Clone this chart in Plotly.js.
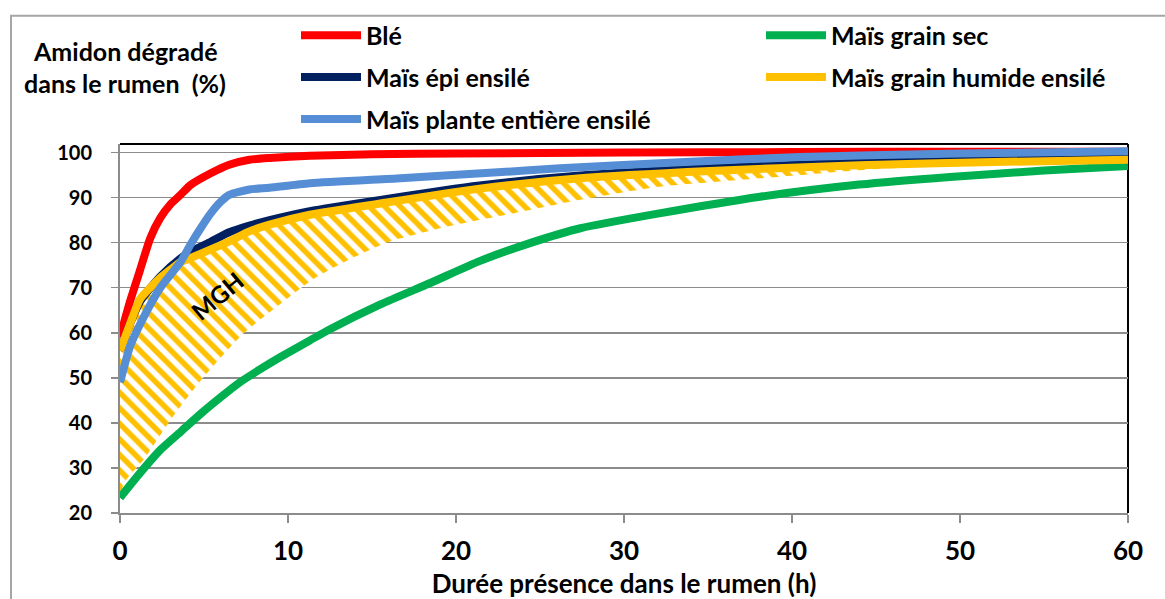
<!DOCTYPE html>
<html><head><meta charset="utf-8">
<script src="https://cdn.plot.ly/plotly-3.0.1.min.js"></script>
<style>html,body{margin:0;padding:0;background:#fff}</style>
</head><body><div id="chart" style="width:1165px;height:599px"></div>
<script>
// ---- data ----
const bleX = [0, 0.6, 1.2, 1.8, 2.4, 3, 3.6, 4.2, 5.4, 6.5, 7.7, 8.9, 11.3, 15, 20, 30, 40, 50, 60];
const bleY = [59, 67, 74, 81, 85.5, 88.5, 90.6, 92.8, 95.4, 97.3, 98.4, 98.8, 99.3, 99.6, 99.8, 100, 100.1, 100.2, 100.2];

const grainSecX = [0, 1.2, 2.4, 3.6, 4.8, 6, 7.1, 8.3, 9.5, 11.3, 12.5, 15.5, 18.5, 21.4, 24.4, 27.4, 32.1, 38.1, 44, 49.4, 55, 60];
const grainSecY = [23.4, 28.9, 34, 38, 42, 45.7, 48.9, 51.8, 54.5, 58.3, 60.8, 66.3, 71.1, 75.9, 79.9, 83.2, 86.5, 90.2, 92.9, 94.6, 96, 97];

const epiX = [0, 0.6, 1.2, 2.4, 3.6, 4.2, 5.4, 6.5, 7.7, 8.9, 11.3, 15.5, 21.4, 27.4, 35, 44, 52, 60];
const epiY = [56, 62, 67, 72.5, 76.5, 78, 80.2, 82.3, 83.8, 85.0, 87.0, 89.5, 92.7, 94.9, 96.5, 97.8, 98.5, 99];

const humideX = [0, 0.6, 1.2, 1.8, 2.4, 3, 3.6, 4.2, 5.4, 6.5, 7.7, 8.9, 11.3, 15.5, 21.4, 27.4, 35.1, 44, 52, 60];
const humideY = [56, 62, 67.5, 70, 72.2, 74, 75.7, 76.6, 78.5, 80.3, 82.5, 84, 86.2, 88.7, 92, 94.3, 95.9, 97.2, 97.9, 98.4];

const planteX = [0, 0.6, 1.4, 2.4, 3.6, 4.2, 4.8, 5.4, 6, 6.5, 7.7, 8.9, 11.3, 16.7, 22, 26.2, 33, 40.5, 50, 60];
const planteY = [49, 57, 63.4, 70, 75.7, 79.6, 83.2, 86.5, 89.1, 90.6, 91.8, 92.2, 93.2, 94.3, 95.5, 96.5, 97.8, 99, 99.8, 100.3];

// lower edge of the hatched MGH zone (upper edge = Maïs grain humide ensilé)
const mghBasX = [0, 0.3, 1.4, 3, 4.8, 7.3, 9.5, 11.5, 13.5, 16.1, 19.5, 23.4, 27.4, 32.1, 38.1, 44, 49, 53];
const mghBasY = [24, 27, 31.8, 40.6, 49.4, 59.7, 66.3, 71.9, 76, 80.3, 83.6, 86.5, 89.5, 92.4, 94.3, 96.1, 97.2, 98];

const seriesNames = ['Blé', 'Maïs grain sec', 'Maïs épi ensilé', 'Maïs grain humide ensilé', 'Maïs plante entière ensilé'];
const xTicks = [0, 10, 20, 30, 40, 50, 60];
const yTicks = [20, 30, 40, 50, 60, 70, 80, 90, 100];
const yTitle1 = 'Amidon dégradé';
const yTitle2 = 'dans le rumen&nbsp; (%)';
const xTitle = 'Durée présence dans le rumen (h)';
const zoneLabel = 'MGH';

// ---- styling ----
const FONT = 'Lato, "Open Sans", sans-serif';
const colors = ['#FF0000', '#00B050', '#002060', '#FFC000', '#558ED5'];
const LW = 8;
const L = 120, R = 37, T = 142, B = 86, W = 1165, H = 599;
const pw = W - L - R, ph = H - T - B;
const px2x = p => (p - L) / pw;
const py2y = p => (H - B - p) / ph;

const lineTrace = (x, y, i) => ({
  x, y, type: 'scatter', mode: 'lines', name: seriesNames[i],
  line: {color: colors[i], width: LW, shape: 'spline', smoothing: 0.6},
  legend: i === 0 ? 'legend' : 'legend' + (i + 1),
  hoverinfo: 'skip'
});

const traces = [
  {x: mghBasX, y: mghBasY, type: 'scatter', mode: 'lines', line: {width: 0, shape: 'spline', smoothing: 0.6},
   showlegend: false, hoverinfo: 'skip'},
  {x: humideX, y: humideY, type: 'scatter', mode: 'lines', line: {width: 0, shape: 'spline', smoothing: 0.6},
   fill: 'tonexty', fillcolor: 'white',
   fillpattern: {shape: '\\', fgcolor: '#FFC000', bgcolor: 'white', size: 11, solidity: 0.5, fgopacity: 1},
   showlegend: false, hoverinfo: 'skip'},
  lineTrace(bleX, bleY, 0),
  lineTrace(grainSecX, grainSecY, 1),
  lineTrace(epiX, epiY, 2),
  lineTrace(humideX, humideY, 3),
  lineTrace(planteX, planteY, 4)
];

const legendPos = [[296, 33], [761, 33], [296, 75], [761, 75], [296, 117]];
const layout = {
  width: W, height: H,
  margin: {l: L, r: R, t: T, b: B},
  paper_bgcolor: 'white', plot_bgcolor: 'white',
  font: {family: FONT, color: '#000'},
  showlegend: true,
  xaxis: {
    range: [0, 60], tickvals: xTicks, ticks: 'outside', ticklen: 8, tickwidth: 1.5, tickcolor: '#8C8C8C',
    showline: true, linecolor: '#8C8C8C', linewidth: 2, showgrid: false, zeroline: false,
    tickfont: {family: FONT, size: 26, weight: 'bold', color: '#000'},
    ticklabelstandoff: 6,
    title: {text: xTitle, font: {family: FONT, size: 26, weight: 'bold', color: '#000'}, standoff: 13},
    layer: 'below traces', fixedrange: true
  },
  yaxis: {
    range: [20, 101.9], tickvals: yTicks, ticks: 'outside', ticklen: 7, tickwidth: 1.5, tickcolor: '#8C8C8C',
    showline: true, linecolor: '#8C8C8C', linewidth: 2, showgrid: true, gridcolor: '#8C8C8C', gridwidth: 1.5,
    zeroline: false, tickfont: {family: FONT, size: 20, weight: 'bold', color: '#000'},
    ticklabelstandoff: 15, layer: 'below traces', fixedrange: true
  },
  shapes: [
    {type: 'line', xref: 'paper', yref: 'paper', x0: 0, x1: 1, y0: 1, y1: 1, line: {color: '#000', width: 2}, layer: 'below'},
    {type: 'line', xref: 'paper', yref: 'paper', x0: 1, x1: 1, y0: 0, y1: 1, line: {color: '#000', width: 2}, layer: 'below'},
    {type: 'rect', xref: 'paper', yref: 'paper', x0: px2x(11), x1: px2x(1200), y0: py2y(640), y1: py2y(13),
     line: {color: '#A6A6A6', width: 2}, layer: 'below'}
  ],
  annotations: [
    {xref: 'paper', yref: 'paper', x: px2x(125), y: py2y(48), text: yTitle1, showarrow: false,
     xanchor: 'center', yanchor: 'middle', font: {family: FONT, size: 25, weight: 'bold', color: '#000'}},
    {xref: 'paper', yref: 'paper', x: px2x(125), y: py2y(81), text: yTitle2, showarrow: false,
     xanchor: 'center', yanchor: 'middle', font: {family: FONT, size: 25, weight: 'bold', color: '#000'}},
    {xref: 'x', yref: 'y', x: 5.8, y: 68.2, text: zoneLabel, showarrow: false, textangle: -40,
     font: {family: FONT, size: 24, weight: 'bold', color: '#000'}}
  ]
};
legendPos.forEach((p, i) => {
  layout[i === 0 ? 'legend' : 'legend' + (i + 1)] = {
    x: px2x(p[0]), y: py2y(p[1]), xanchor: 'left', yanchor: 'middle', orientation: 'v',
    itemwidth: 60, bgcolor: 'rgba(0,0,0,0)', borderwidth: 0,
    font: {family: FONT, size: 25, weight: 'bold', color: '#000'}, itemclick: false, itemdoubleclick: false
  };
});

Plotly.newPlot('chart', traces, layout, {displayModeBar: false, staticPlot: true});
</script>
</body></html>
